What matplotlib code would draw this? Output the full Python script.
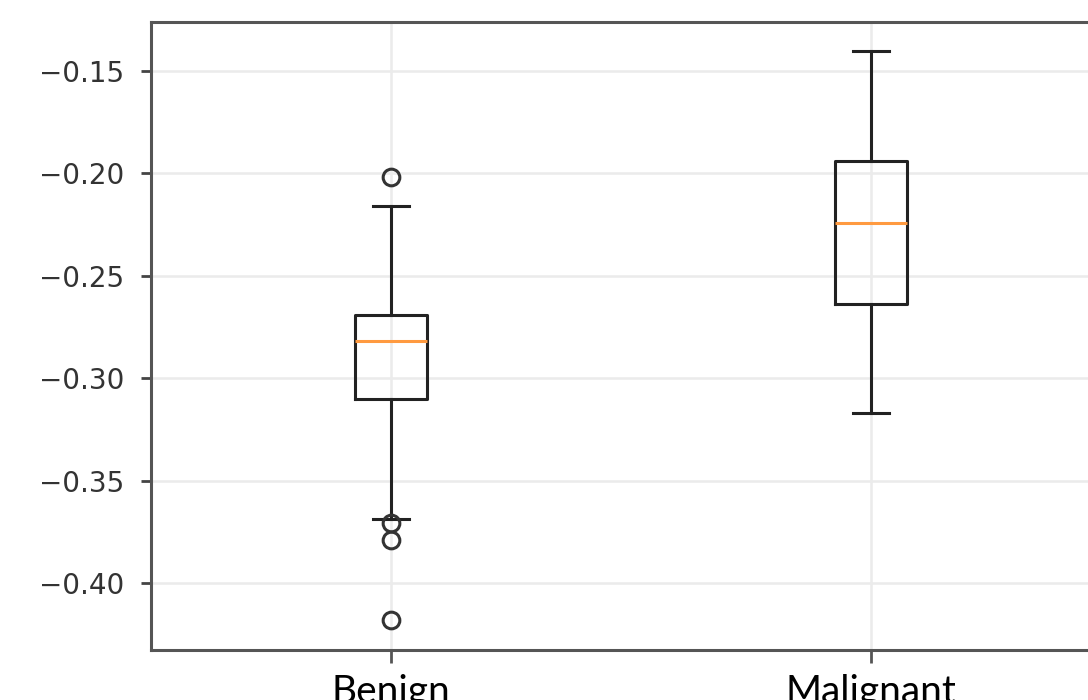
import numpy as np
import matplotlib
matplotlib.use("Agg")
import matplotlib.pyplot as plt

# box statistics
labels = ["Benign", "Malignant"]
medians = [-0.282, -0.224]
q1 = [-0.310, -0.2636]
q3 = [-0.269, -0.1937]
whis_lo = [-0.3686, -0.3167]
whis_hi = [-0.2157, -0.1401]
fliers = [[-0.2016, -0.3705, -0.3788, -0.4178], []]
yticks = [-0.40, -0.35, -0.30, -0.25, -0.20, -0.15]

stats = []
for i in range(len(labels)):
    stats.append(dict(label=labels[i], med=medians[i], q1=q1[i], q3=q3[i],
                      whislo=whis_lo[i], whishi=whis_hi[i], fliers=fliers[i]))

fig = plt.figure(figsize=(10.88, 7.0), dpi=100)
ax = fig.add_axes([151/1088, 50/700, 960/1088, 628/700])

lw = 2.2
ax.bxp(stats,
       boxprops=dict(color="#222222", linewidth=lw),
       whiskerprops=dict(color="#222222", linewidth=lw),
       capprops=dict(color="#222222", linewidth=lw),
       medianprops=dict(color="#ff9a40", linewidth=lw),
       flierprops=dict(marker="o", markersize=12, markerfacecolor="none",
                       markeredgecolor="#333333", markeredgewidth=2.2))

ax.set_xlim(0.5, 2.5)
ax.set_ylim(-0.4326, -0.1261)
ax.set_yticks(yticks)
ax.set_yticklabels([("%.2f" % v).replace("-", "\u2212") for v in yticks])
ax.grid(True, color="#ebebeb", linewidth=1.8)
ax.set_axisbelow(True)

for s in ax.spines.values():
    s.set_color("#555555")
    s.set_linewidth(2.2)

ax.tick_params(axis="y", labelsize=20, colors="#444444", length=7, width=2, pad=12)
ax.tick_params(axis="x", colors="#555555", length=9, width=2, pad=8)
for t in ax.get_yticklabels():
    t.set_color("#333333")
for t in ax.get_xticklabels():
    t.set_fontsize(28)
    t.set_family(["Lato", "DejaVu Sans"])
    t.set_color("black")

fig.savefig("out.png", dpi=100)
